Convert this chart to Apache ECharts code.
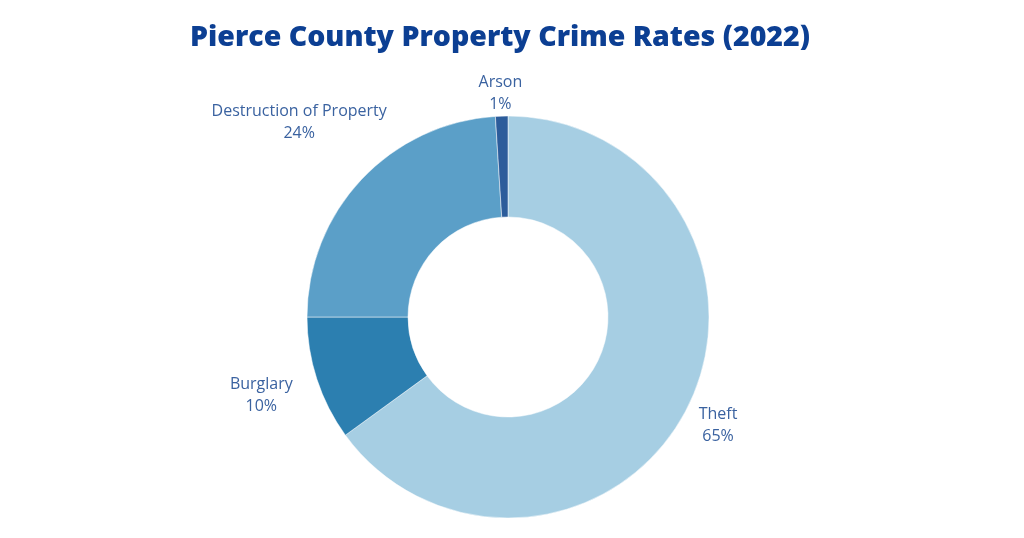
<!DOCTYPE html>
<html><head><meta charset="utf-8">
<script src="https://cdn.jsdelivr.net/npm/echarts@6/dist/echarts.min.js"></script>
<style>html,body{margin:0;padding:0;background:#fff;}#c{width:1024px;height:538px;}</style>
</head><body><div id="c"></div>
<script>
const categories = ["Theft", "Burglary", "Destruction of Property", "Arson"];
const values = [65, 10, 24, 1];
const colors = ["#a6cee3", "#2c7fb0", "#5b9fc8", "#2c5c9b"];
const titleText = "Pierce County Property Crime Rates (2022)";
// label nudges (dx, dy) relative to default outside label anchor
const labelShift = [[-3, 13], [-21, 13], [-30, -50], [24, -13]];

const chart = echarts.init(document.getElementById('c'));
chart.setOption({
  backgroundColor: '#ffffff',
  title: {
    text: titleText, left: 495, top: 18, textAlign: 'center',
    textStyle: {fontFamily: 'Open Sans', fontWeight: 800, fontSize: 28.5, color: '#0c3f93'}
  },
  series: [{
    type: 'pie',
    center: [508, 317],
    radius: [100, 201],
    startAngle: 90,
    clockwise: true,
    avoidLabelOverlap: false,
    itemStyle: {borderColor: '#ffffff', borderWidth: 0.5},
    label: {
      show: true, position: 'outside',
      formatter: '{b}\n{d}%',
      fontFamily: 'Open Sans', fontSize: 16, lineHeight: 22, color: '#3a62a0'
    },
    labelLine: {show: false, length: 10, length2: 20},
    labelLayout: function (p) {
      const s = labelShift[p.dataIndex];
      return {align: 'center', dx: s[0], dy: s[1]};
    },
    data: categories.map((c, i) => ({name: c, value: values[i], itemStyle: {color: colors[i]}}))
  }]
});
</script></body></html>
